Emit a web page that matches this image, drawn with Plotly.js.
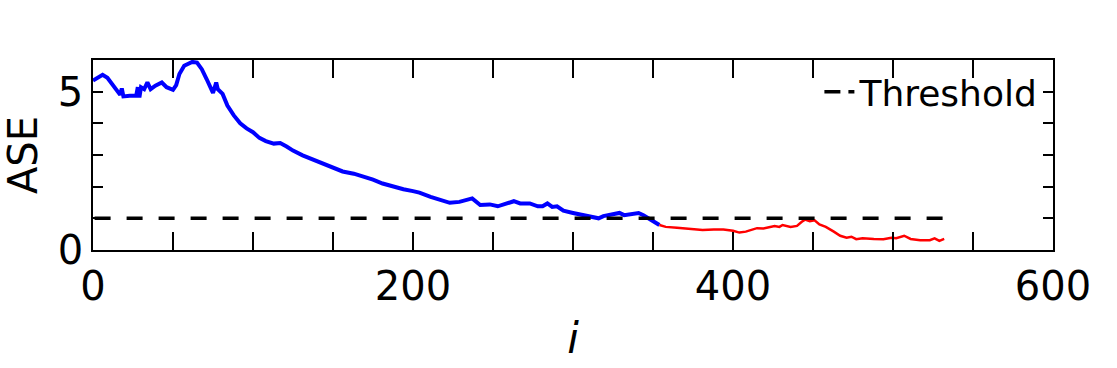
<!DOCTYPE html>
<html>
<head>
<meta charset="utf-8">
<script src="https://cdn.plot.ly/plotly-3.0.1.min.js"></script>
<style>
  html, body { margin: 0; padding: 0; background: #fff; }
  #main { width: 1117px; height: 368px; }
</style>
</head>
<body>
<div id="main"></div>
<script>
// ASE before the threshold is reached (blue) and after (red)
const BLUE_I = [0, 3, 6, 9, 12, 14, 17, 18, 19, 23, 27, 28, 29, 30, 32, 34, 36, 39, 43, 46, 50, 52, 54, 57, 62, 65, 68, 71, 73, 75, 77, 78, 81, 84, 88, 92, 96, 100, 104, 108, 113, 117, 121, 125, 131, 138, 144, 150, 156, 163, 169, 175, 181, 188, 194, 200, 204, 211, 217, 223, 229, 233, 237, 242, 248, 253, 258, 263, 267, 273, 278, 281, 284, 287, 290, 294, 300, 305, 309, 313, 316, 319, 323, 327, 329, 332, 337, 341, 344, 347, 350, 354];
const BLUE_ASE = [5.35, 5.45, 5.53, 5.44, 5.24, 5.14, 4.90, 5.10, 4.85, 4.87, 4.87, 5.14, 4.82, 5.14, 5.08, 5.29, 5.08, 5.19, 5.29, 5.14, 5.06, 5.21, 5.56, 5.82, 5.94, 5.92, 5.71, 5.40, 5.14, 4.96, 5.29, 5.08, 4.93, 4.56, 4.25, 4.00, 3.84, 3.72, 3.54, 3.44, 3.36, 3.38, 3.27, 3.14, 2.99, 2.85, 2.72, 2.60, 2.48, 2.41, 2.33, 2.22, 2.10, 1.99, 1.92, 1.86, 1.81, 1.68, 1.59, 1.49, 1.52, 1.57, 1.63, 1.42, 1.44, 1.38, 1.45, 1.54, 1.47, 1.47, 1.38, 1.38, 1.47, 1.36, 1.38, 1.24, 1.17, 1.12, 1.07, 1.03, 1.00, 1.07, 1.10, 1.13, 1.17, 1.10, 1.15, 1.17, 1.10, 1.00, 0.89, 0.79];

const RED_I = [354, 358, 365, 371, 377, 381, 388, 394, 400, 404, 408, 412, 415, 419, 423, 426, 429, 431, 436, 440, 443, 445, 448, 451, 454, 458, 463, 467, 471, 474, 477, 481, 488, 494, 499, 502, 507, 511, 517, 523, 526, 529, 532];
const RED_ASE = [0.79, 0.73, 0.70, 0.68, 0.65, 0.63, 0.65, 0.65, 0.61, 0.55, 0.58, 0.65, 0.69, 0.68, 0.73, 0.76, 0.73, 0.79, 0.73, 0.76, 0.89, 0.96, 0.91, 0.94, 0.81, 0.73, 0.58, 0.45, 0.39, 0.42, 0.34, 0.37, 0.35, 0.34, 0.39, 0.37, 0.45, 0.35, 0.31, 0.31, 0.37, 0.29, 0.35];

const THRESH_I = [1, 532];
const THRESH = [1, 1];

const FONT = "DejaVu Sans";

const traces = [
    {
        x: BLUE_I, y: BLUE_ASE,
        mode: "lines", type: "scatter",
        line: { color: "#0000ff", width: 4 },
        showlegend: false,
    },
    {
        x: RED_I, y: RED_ASE,
        mode: "lines", type: "scatter",
        line: { color: "#ff0000", width: 2.5 },
        showlegend: false,
    },
    {
        x: THRESH_I, y: THRESH,
        mode: "lines", type: "scatter",
        line: { color: "#000000", width: 3.5, dash: "16px,16px" },
        showlegend: false,
    },
    {
        // legend entry only
        name: "Threshold",
        x: [null], y: [null],
        mode: "lines", type: "scatter",
        line: { color: "#000000", width: 3.5, dash: "16px,8px" },
    },
];

const axisCommon = {
    showline: true,
    linecolor: "#000",
    linewidth: 1.5,
    mirror: "allticks",
    ticks: "inside",
    tickcolor: "#000",
    tickwidth: 1.5,
    showgrid: false,
    zeroline: false,
    tickfont: { family: FONT, size: 40, color: "#000" },
};

Plotly.newPlot("main", traces, {
    width: 1117,
    height: 368,
    margin: { l: 93, r: 64, t: 60, b: 118 },
    paper_bgcolor: "#fff",
    plot_bgcolor: "#fff",
    font: { family: FONT, color: "#000" },
    xaxis: Object.assign({}, axisCommon, {
        range: [0, 600],
        dtick: 200,
        ticklen: 18,
        minor: { dtick: 50, ticks: "inside", ticklen: 18, tickcolor: "#000", tickwidth: 1.5 },
        title: { text: "<i>i</i>", font: { family: FONT, size: 42 }, standoff: 16 },
    }),
    yaxis: Object.assign({}, axisCommon, {
        range: [0, 6],
        dtick: 5,
        ticklen: 10,
        minor: { dtick: 1, ticks: "inside", ticklen: 10, tickcolor: "#000", tickwidth: 1.5 },
        title: { text: "ASE", font: { family: FONT, size: 40 }, standoff: 10 },
    }),
    legend: {
        x: 0.99, xanchor: "right",
        y: 0.99, yanchor: "top",
        bgcolor: "rgba(0,0,0,0)",
        font: { family: FONT, size: 36, color: "#000" },
    },
    showlegend: true,
}, { displayModeBar: false });
</script>
</body>
</html>
